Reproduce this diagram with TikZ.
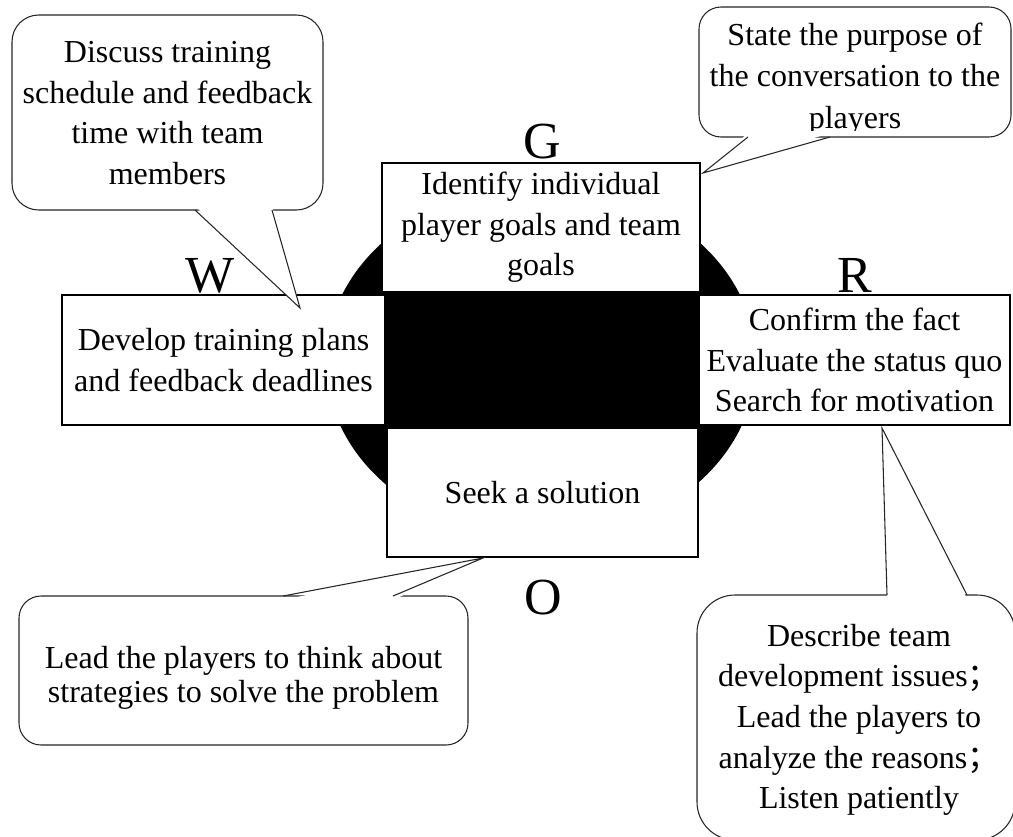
\documentclass[tikz,border=0pt]{standalone}
\usepackage{fontspec}
\setmainfont{Liberation Serif}
\newfontfamily\cjkfont{Noto Sans CJK SC}
\newcommand{\fsemi}{{\cjkfont ；}}
\begin{document}
\begin{tikzpicture}[x=0.75pt,y=-0.75pt,
  box/.style={draw=black, line width=1.4pt, fill=white, inner sep=0pt, align=center,
    font=\fontsize{24}{30.5}\selectfont},
  letter/.style={font=\fontsize{39}{39}\selectfont, inner sep=0pt, anchor=base},
  bubble/.style={draw=black!85, line width=0.8pt, fill=white, inner sep=0pt},
  btext/.style={inner sep=0pt, align=center, font=\fontsize{24}{30.5}\selectfont},
  ptr/.style={draw=black!85, line width=0.8pt, line join=miter}
]
\useasboundingbox (0,0) rectangle (1013,836);
\clip (0,0) rectangle (1013,836);

% black disc and centre
\fill[black] (541,362) ellipse [x radius=161.25pt, y radius=132.75pt];
\fill[black] (385,292) rectangle (700,428);

% the four boxes
\node[box, minimum width=238.5pt, minimum height=96.75pt] (G) at (541,227.5)
  {Identify individual\\player goals and team\\goals};
\node[box, minimum width=242.25pt, minimum height=97.5pt] (W) at (223.5,360)
  {Develop training plans\\and feedback deadlines};
\node[box, minimum width=233.25pt, minimum height=97.5pt] (R) at (854.5,360)
  {Confirm the fact\\Evaluate the status quo\\Search for motivation};
\node[box, minimum width=233.25pt, minimum height=96.75pt] (O) at (542.5,492.5)
  {Seek a solution};

% letters
\node[letter] (lG) at (542,158) {G};
\node[letter] (lW) at (210,292) {W};
\node[letter] (lR) at (855,292) {R};
\node[letter] (lO) at (543,614) {O};

% callout 1 (top left)
\node[bubble, rounded corners=20pt, minimum width=233.25pt, minimum height=146.25pt] (c1) at (167.5,112.5) {};
\node[btext] (c1t) at (167.5,113) {Discuss training\\schedule and feedback\\time with team\\members};
\coordinate (t1) at (300,308);
\fill[white] (195,206) -- (t1) -- (272,206) -- cycle;
\draw[ptr] (195,210) -- (t1) -- (272,210);

% callout 2 (top right)
\node[bubble, rounded corners=16.5pt, minimum width=234pt, minimum height=97.5pt] (c2) at (855,72) {};
\begin{scope}
\clip (699,7) rectangle (1011,130);
\node[btext, font=\fontsize{24}{31}\selectfont, anchor=base] (c2t) at (855,128)
  {State the purpose of\\the conversation to the\\players};
\end{scope}
\coordinate (t2) at (703,173);
\fill[white] (748,133) -- (t2) -- (830,133) -- cycle;
\draw[ptr] (748,137) -- (t2) -- (830,137);

% callout 3 (bottom left)
\node[bubble, rounded corners=16.5pt, minimum width=336.75pt, minimum height=111.75pt] (c3) at (243.5,670.5) {};
\node[btext, font=\fontsize{24}{25.5}\selectfont] (c3t) at (243.5,677.5)
  {Lead the players to think about\\strategies to solve the problem};
\coordinate (t3) at (483,558);
\fill[white] (283,600) -- (t3) -- (393,600) -- cycle;
\draw[ptr] (283,596) -- (t3) -- (393,596);

% callout 4 (bottom right)
\node[bubble, rounded corners=28.5pt, minimum width=238.5pt, minimum height=183.75pt] (c4) at (856,717.5) {};
\node[btext] (c4t) at (859,720)
  {Describe team\\development issues\fsemi\\Lead the players to\\analyze the reasons\fsemi\\Listen patiently};
\coordinate (t4) at (882,428);
\fill[white] (887,599) -- (t4) -- (967,599) -- cycle;
\draw[ptr] (887,595) -- (t4) -- (967,595);
\end{tikzpicture}
\end{document}
